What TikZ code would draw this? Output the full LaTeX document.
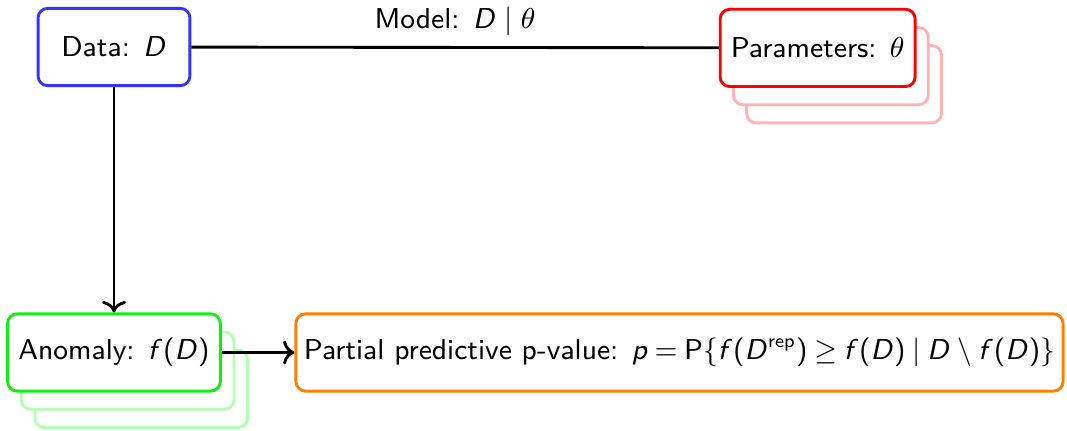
\documentclass[tikz,border=0pt]{standalone}
\usepackage{amsmath,amssymb}
\usepackage{xcolor}
\definecolor{datac}{HTML}{3333FF}
\definecolor{parc}{HTML}{FF0000}
\definecolor{parsh}{HTML}{FFB3B3}
\definecolor{anomc}{HTML}{11EE11}
\definecolor{anomsh}{HTML}{B3FFB3}
\definecolor{pvalc}{HTML}{FF8000}
% sans letters in math, Greek stays serif
\DeclareSymbolFont{sfletters}{OT1}{cmss}{m}{sl}
\SetSymbolFont{operators}{normal}{OT1}{cmss}{m}{n}
\DeclareMathSymbol{D}{\mathalpha}{sfletters}{`D}
\DeclareMathSymbol{f}{\mathalpha}{sfletters}{`f}
\DeclareMathSymbol{p}{\mathalpha}{sfletters}{`p}
\usepackage{tikz}
\usetikzlibrary{arrows.meta,positioning,shadows}
\tikzset{
  box/.style={draw,line width=0.9pt,rounded corners=3pt,fill=white,minimum height=0.85cm,font=\sffamily\small},
  databox/.style={box,draw=datac,minimum width=1.67cm},
  parbox/.style={box,draw=parc,
    copy shadow={shadow xshift=0.29cm,shadow yshift=-0.4cm,draw=parsh,fill=white,line width=0.9pt},
    copy shadow={shadow xshift=0.145cm,shadow yshift=-0.2cm,draw=parsh,fill=white,line width=0.9pt}},
  anombox/.style={box,draw=anomc,
    copy shadow={shadow xshift=0.3cm,shadow yshift=-0.4cm,draw=anomsh,fill=white,line width=0.9pt},
    copy shadow={shadow xshift=0.15cm,shadow yshift=-0.2cm,draw=anomsh,fill=white,line width=0.9pt}},
  pvalbox/.style={box,draw=pvalc,inner xsep=2.5pt},
  link/.style={line width=0.9pt},
  flow/.style={->,line width=0.9pt},
}
\begin{document}
\begin{tikzpicture}
  \useasboundingbox (-1.254,0.517) rectangle (10.483,-4.213);
  \node[databox] (data) at (0,0) {Data: $D$};
  \node[parbox] (params) at (7.74,-0.01) {Parameters: $\theta$};
  \node[anombox] (anomaly) at (0,-3.36) {Anomaly: $f(D)$};
  \node[pvalbox,right=0.8cm of anomaly] (pval)
    {Partial predictive p-value: $\thickmuskip=4mu p=\mathrm{P}\{f(D^{\mathrm{rep}})\geq f(D)\mid D\setminus f(D)\}$};
  % model line and flow arrows
  \draw[link] (data) -- node[above,font=\sffamily\small]{Model: $D\mid\theta$} (params);
  \draw[flow] (data) -- (anomaly);
  \draw[flow] (anomaly) -- (pval);
\end{tikzpicture}
\end{document}
